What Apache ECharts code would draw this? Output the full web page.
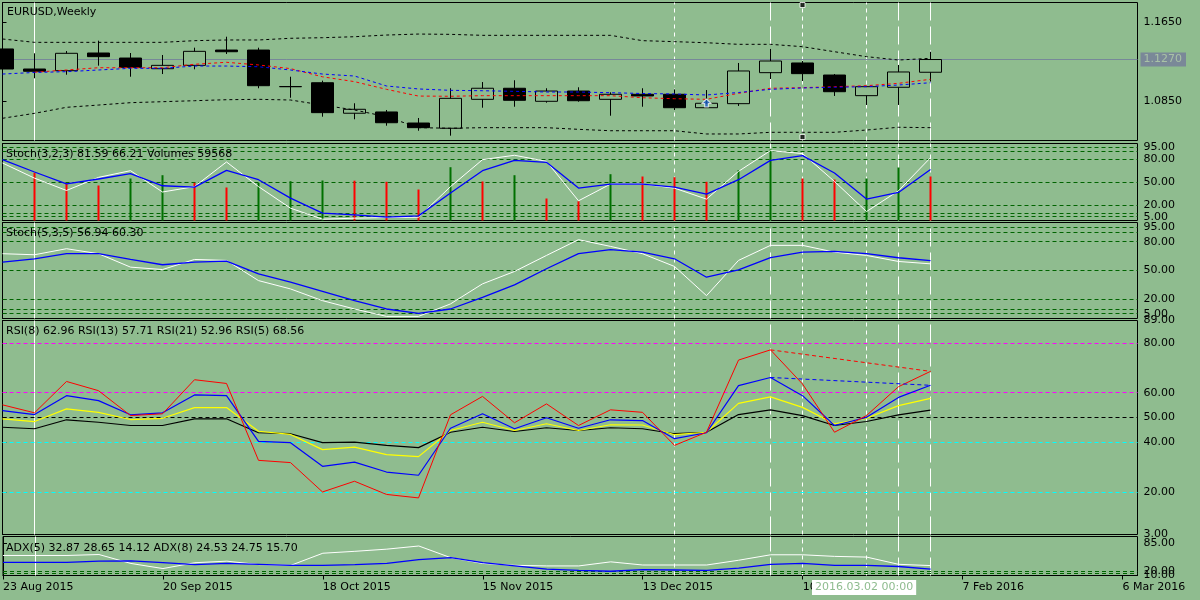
<!DOCTYPE html>
<html>
<head>
<meta charset="utf-8">
<script src="https://cdn.jsdelivr.net/npm/echarts@6/dist/echarts.min.js"></script>
<style>
html, body { margin: 0; padding: 0; background: #8fbc8f; }
#chart { width: 1200px; height: 600px; }
</style>
</head>
<body>
<div id="chart"></div>
<script>
// weekly bars, index 0 = week of 23 Aug 2015
var dateLabels = ['23 Aug 2015', '20 Sep 2015', '18 Oct 2015', '15 Nov 2015',
    '13 Dec 2015', '10 Jan 2016', '7 Feb 2016', '6 Mar 2016'];

var opens  = [1.1377, 1.1174, 1.1157, 1.1336, 1.1285, 1.1177, 1.1211, 1.1366, 1.1366, 1.0996,
              1.1035, 1.0726, 1.0739, 1.0627, 1.0574, 1.0867, 1.0979, 1.0847, 1.0951, 1.0867,
              1.0918, 1.0918, 1.0782, 1.0823, 1.1137, 1.1235, 1.1113, 1.0904, 1.0989, 1.1141];
var closes = [1.1174, 1.1151, 1.1333, 1.1299, 1.1191, 1.1211, 1.1353, 1.1349, 1.1005, 1.0995,
              1.0732, 1.0766, 1.0630, 1.0580, 1.0877, 1.0979, 1.0857, 1.0951, 1.0853, 1.0918,
              1.0901, 1.0782, 1.0827, 1.1154, 1.1255, 1.1127, 1.0944, 1.0995, 1.1144, 1.1270];
var lows   = [1.1160, 1.1080, 1.1116, 1.1208, 1.1096, 1.1123, 1.1171, 1.1326, 1.0979, 1.0883,
              1.0691, 1.0665, 1.0600, 1.0549, 1.0499, 1.0782, 1.0792, 1.0833, 1.0843, 1.0701,
              1.0792, 1.0759, 1.0780, 1.0800, 1.1073, 1.1053, 1.0901, 1.0810, 1.0810, 1.1046];
var highs  = [1.1390, 1.1333, 1.1356, 1.1461, 1.1336, 1.1316, 1.1390, 1.1501, 1.1390, 1.1096,
              1.1056, 1.0827, 1.0759, 1.0678, 1.0979, 1.1042, 1.1060, 1.0979, 1.0989, 1.0938,
              1.0979, 1.0968, 1.0961, 1.1235, 1.1377, 1.1255, 1.1123, 1.0995, 1.1215, 1.1349];

var bandUpper = [1.1478, 1.1444, 1.1444, 1.1444, 1.1444, 1.1444, 1.1461, 1.1468, 1.1468, 1.1485,
                 1.1491, 1.1501, 1.1518, 1.1528, 1.1525, 1.1515, 1.1515, 1.1515, 1.1515, 1.1515,
                 1.1461, 1.1451, 1.1440, 1.1424, 1.1424, 1.1400, 1.1349, 1.1299, 1.1265, 1.1282];
var bandLower = [1.0675, 1.0725, 1.0786, 1.0809, 1.0833, 1.0843, 1.0853, 1.0863, 1.0867, 1.0860,
                 1.0809, 1.0759, 1.0691, 1.0580, 1.0574, 1.0580, 1.0580, 1.0580, 1.0563, 1.0549,
                 1.0549, 1.0549, 1.0516, 1.0516, 1.0533, 1.0533, 1.0533, 1.0556, 1.0584, 1.0580];
var maRed  = [null, 1.1141, 1.1164, 1.1187, 1.1187, 1.1187, 1.1222, 1.1242, 1.1215, 1.1178,
              1.1095, 1.1046, 1.0968, 1.0900, 1.0898, 1.0904, 1.0904, 1.0904, 1.0904, 1.0904,
              1.0883, 1.0873, 1.0867, 1.0928, 1.0979, 1.0985, 1.0995, 1.1005, 1.1029, 1.1070];
var maBlue = [1.1123, 1.1139, 1.1147, 1.1164, 1.1181, 1.1181, 1.1204, 1.1204, 1.1197, 1.1164,
              1.1123, 1.1103, 1.1002, 1.0972, 1.0958, 1.0954, 1.0948, 1.0941, 1.0941, 1.0934,
              1.0926, 1.0921, 1.0911, 1.0936, 1.0968, 1.0982, 1.0989, 1.0995, 1.1012, 1.1035];

var buySignal = [[22, 1.0830]];
var anchorMarks = [[25, 1.1822], [25, 1.0485]];

var volumes = [70000, 64580, 49680, 47380, 56860, 61330, 51040, 44680, 51040, 53200,
               54150, 53900, 52390, 41970, 72160, 52800, 61330, 29780, 26130, 62680,
               59570, 58620, 52390, 68100, 96120, 56860, 55510, 56860, 71750, 59568];
var stochFastK = [74.7, 55, 39, 56, 64.7, 37, 44, 76, 44, 16, 1.7, 3, 3.8, 4.3, 44,
                  79, 84.7, 76.8, 25.6, 47.3, 47.3, 42, 27.8, 63.8, 90.8, 86.9, 50.7, 11.6, 38.6, 81.59];
var stochFastD = [79, 63, 47.7, 53.9, 60.8, 45.1, 43.4, 65.1, 53, 29.1, 9.5, 7.3, 4.3, 6, 35.6,
                  64.7, 78.1, 75.5, 42.1, 47.3, 47.3, 43.4, 34.3, 53, 78.1, 84.3, 61.7, 27.8, 36.4, 66.21];
var stochSlowK = [67.5, 66.4, 72.7, 67.5, 53.5, 51, 61.5, 60.5, 39.5, 30.8, 18.6, 9.9, 2.2, 2.2, 15.2,
                  36.1, 49, 65.7, 82.1, 75.1, 67.5, 54.2, 23.8, 60.5, 76.2, 76.2, 69.1, 65.7, 59.4, 56.94];
var stochSlowD = [58.7, 62.2, 67.5, 67.5, 61.5, 56, 58.7, 59.7, 46.5, 37.8, 28.3, 18.6, 9.9, 5.3, 9.9,
                  22.1, 35, 51.8, 67.5, 71.7, 69.1, 62.2, 43, 50.7, 63.3, 69.1, 69.9, 67.5, 63.3, 60.30];

var rsi5  = [55.1, 51.9, 64.5, 60.8, 50.8, 51.5, 65.2, 63.7, 32.8, 31.9, 20.1, 24.4, 19.1, 17.7, 51.1,
             58.5, 47.9, 55.5, 46.8, 53.1, 52.1, 38.8, 44.1, 73.1, 77.2, 63.5, 44.1, 50.8, 62.4, 68.56];
var rsi8  = [52.8, 51.2, 58.8, 56.8, 51.1, 51.9, 59.1, 58.8, 40.4, 39.9, 30.4, 32.1, 28.1, 26.8, 45.7,
             51.5, 45.5, 49.9, 45.7, 49.1, 48.8, 41.5, 43.9, 62.8, 66.1, 58.8, 46.8, 50.1, 58.1, 62.96];
var rsi13 = [49.5, 48.4, 53.5, 52.1, 49.2, 49.7, 54, 54, 44.5, 43.2, 37.1, 38.1, 35.1, 34.3, 44.8,
             48.1, 44.8, 47.5, 44.8, 47.1, 47, 43.1, 44.1, 55.7, 58.3, 54.1, 47.5, 49.7, 54.8, 57.71];
var rsi21 = [46.1, 45.5, 49.1, 48.1, 46.8, 46.8, 49.5, 49.5, 43.9, 43.5, 39.9, 40.1, 38.8, 37.9, 44.1,
             46.1, 44.4, 45.9, 44.8, 45.9, 45.5, 43.5, 44.1, 51.2, 53.1, 50.8, 46.8, 48.4, 51.1, 52.96];

var adx5 = [56.2, 56.2, 56.2, 58.4, 37.8, 26, 39.5, 43.1, 35.1, 33.5, 61.4, 65.8, 70.8, 78.1, 51.1,
            37.8, 33.5, 32.1, 32.1, 41.5, 34.2, 34.2, 34.2, 45.2, 57.8, 57.8, 54.1, 52.5, 35.8, 32.87];
var adx8 = [40.1, 40.1, 40.1, 43.1, 43.8, 39.5, 35.1, 37.8, 35.8, 33.5, 33.5, 35.1, 37.8, 46.8, 51.1,
            39.5, 32.1, 24.8, 21.8, 19.8, 23.4, 22.7, 21.8, 27.1, 35.8, 37.8, 33.5, 33.5, 30.8, 24.53];

// chart objects (vertical lines) placed on bars
var vLineBars  = [1, 21, 24, 25, 27, 28, 29];
var vLineKinds = ['solid', 'dot', 'dash', 'dot', 'dot', 'dash', 'dash'];

var stochLevels = [5, 10, 20, 50, 80, 90, 95];
var rsiLevels = [3, 20, 40, 50, 60, 80, 89];
var adxLevels = [10, 15, 20, 85];
var priceTicks = [1.085, 1.165];

var FONT = 'DejaVu Sans';
var FSIZE = 11;
var BG = '#8fbc8f';

function pairs(arr) {
    return arr.map(function (v, i) { return [i, v]; });
}

function vLines(skipFirst) {
    var out = [];
    vLineBars.forEach(function (b, k) {
        if (skipFirst && k === 0) return;
        var kind = vLineKinds[k];
        out.push({
            xAxis: b,
            lineStyle: {
                color: '#fff', width: 1,
                type: kind === 'solid' ? 'solid' : (kind === 'dot' ? [4, 4] : [18, 6])
            }
        });
    });
    return out;
}

function levelLines(levels, colors) {
    return levels.map(function (v, k) {
        return { yAxis: v, lineStyle: { color: colors[k], width: 1, type: [4, 3] } };
    });
}

function helper(grid, lines) {
    return {
        type: 'line', xAxisIndex: grid, yAxisIndex: grid, data: [], z: 1,
        markLine: { silent: true, z: 1, precision: 4, symbol: 'none', label: { show: false }, data: lines, animation: false }
    };
}

function line(grid, yIdx, data, color, width, dash) {
    return {
        type: 'line', xAxisIndex: grid, yAxisIndex: yIdx, data: pairs(data),
        showSymbol: false, connectNulls: false, z: 3,
        lineStyle: { color: color, width: width || 1, type: dash || 'solid' }
    };
}

var grids = [
    { top: 2.5, height: 138 },
    { top: 143.5, height: 77 },
    { top: 222.5, height: 96 },
    { top: 320.5, height: 214 },
    { top: 536.5, height: 39 }
].map(function (g) {
    return {
        left: 2.5, right: 62.5, top: g.top, height: g.height,
        show: true, borderColor: '#000', borderWidth: 1, backgroundColor: 'transparent'
    };
});

var xAxes = grids.map(function (g, i) {
    var last = i === grids.length - 1;
    return {
        type: 'value', gridIndex: i, min: 0, max: 35.46875,
        splitLine: { show: false },
        axisLine: { show: last, onZero: false, lineStyle: { color: '#000' } },
        axisTick: { show: last, length: 4, lineStyle: { color: '#000' }, customValues: [0, 5, 10, 15, 20, 25, 30, 35] },
        axisLabel: {
            show: last, color: '#000', fontFamily: FONT, fontSize: FSIZE, margin: 6, align: 'left',
            hideOverlap: false,
            customValues: [0, 5, 10, 15, 20, 25, 30, 35],
            formatter: function (v) { return dateLabels[Math.round(v / 5)]; }
        }
    };
});

function yAx(grid, min, max, ticks, digits) {
    return {
        type: 'value', gridIndex: grid, position: 'right', min: min, max: max,
        splitLine: { show: false },
        axisLine: { show: true, lineStyle: { color: '#000' } },
        axisTick: { show: true, length: 4, lineStyle: { color: '#000' }, customValues: ticks },
        axisLabel: {
            color: '#000', fontFamily: FONT, fontSize: FSIZE, margin: 6, customValues: ticks,
            hideOverlap: false, showMinLabel: true, showMaxLabel: true,
            formatter: function (v) { return v.toFixed(digits); }
        }
    };
}

var yAxes = [
    yAx(0, 1.045, 1.18475, priceTicks, 4),
    yAx(1, 0, 100, stochLevels, 2),
    yAx(2, 0, 100, stochLevels, 2),
    yAx(3, 3, 89, rsiLevels, 2),
    yAx(4, 10, 100, adxLevels, 2),
    { type: 'value', gridIndex: 1, min: 0, max: 104244, show: false }
];

var stochColors = ['#006400', '#006400', '#006400', '#006400', '#006400', '#006400', '#006400'];

var series = [
    helper(0, vLines(false)),
    helper(1, vLines(true).concat(levelLines(stochLevels, stochColors))),
    helper(2, vLines(false).concat(levelLines(stochLevels, stochColors))),
    helper(3, vLines(false).concat(levelLines([20, 40, 50, 60, 80],
        ['#00ffff', '#00ffff', '#000000', '#ff00ff', '#ff00ff']))),
    helper(4, vLines(false).concat(levelLines([15, 20], ['#006400', '#006400']))),

    line(0, 0, bandUpper, '#000', 1, [3, 3]),
    line(0, 0, bandLower, '#000', 1, [3, 3]),
    {
        type: 'candlestick', xAxisIndex: 0, yAxisIndex: 0, barWidth: 22, z: 2,
        data: opens.map(function (o, i) { return [i, o, closes[i], lows[i], highs[i]]; }),
        itemStyle: { color: BG, color0: '#000', borderColor: '#000', borderColor0: '#000', borderWidth: 1 }
    },
    line(0, 0, maRed, '#ff0000', 1, [3, 3]),
    {
        type: 'line', xAxisIndex: 0, yAxisIndex: 0, data: pairs(maBlue),
        showSymbol: false, z: 3,
        lineStyle: { color: '#0000ff', width: 1, type: [3, 3] },
        // current price line with its axis label
        markLine: {
            silent: true, z: 1, precision: 4, symbol: 'none', animation: false,
            data: [{ yAxis: closes[closes.length - 1] }],
            lineStyle: { color: '#778899', width: 1, type: 'solid' },
            label: {
                show: true, position: 'end', distance: 3,
                formatter: function (p) { return Number(p.value).toFixed(4); },
                backgroundColor: '#7a8898', color: '#a9c2a6',
                fontFamily: FONT, fontSize: FSIZE, padding: [2, 4, 1, 3]
            }
        }
    },
    {
        type: 'scatter', xAxisIndex: 0, yAxisIndex: 0, data: buySignal, z: 5,
        symbol: 'path://M5,0 L10,5 L7,5 L7,9 L3,9 L3,5 L0,5 Z', symbolSize: [9, 8],
        itemStyle: { color: '#1e60c8', borderColor: '#fff', borderWidth: 1 }
    },
    {
        type: 'scatter', xAxisIndex: 0, yAxisIndex: 0, data: anchorMarks, z: 5,
        symbol: 'rect', symbolSize: 5, itemStyle: { color: '#000', borderColor: '#fff', borderWidth: 1 }
    },

    {
        type: 'bar', xAxisIndex: 1, yAxisIndex: 5, barWidth: 2, z: 2,
        data: volumes.map(function (v, i) {
            var up = i === 0 || v > volumes[i - 1];
            return { value: [i, v], itemStyle: { color: up ? '#007000' : '#ff0000' } };
        }).slice(1)
    },
    line(1, 1, stochFastK, '#ffffff', 1),
    line(1, 1, stochFastD, '#0000ff', 1.3),

    line(2, 2, stochSlowK, '#ffffff', 1),
    line(2, 2, stochSlowD, '#0000ff', 1.3),

    line(3, 3, rsi21, '#000000', 1.2),
    line(3, 3, rsi13, '#ffff00', 1.2),
    line(3, 3, rsi8, '#0000ff', 1.2),
    line(3, 3, rsi5, '#ff0000', 1),
    {
        type: 'line', xAxisIndex: 3, yAxisIndex: 3, showSymbol: false, z: 3,
        data: [[24, rsi5[24]], [29, rsi5[29]]],
        lineStyle: { color: '#ff0000', width: 1, type: [4, 3] }
    },
    {
        type: 'line', xAxisIndex: 3, yAxisIndex: 3, showSymbol: false, z: 3,
        data: [[24, rsi8[24]], [29, rsi8[29]]],
        lineStyle: { color: '#0000ff', width: 1, type: [4, 3] }
    },

    line(4, 4, adx5, '#ffffff', 1),
    line(4, 4, adx8, '#0000ff', 1.3)
];

function caption(x, y, text) {
    return {
        type: 'text', left: x, top: y, z: 50, silent: true,
        style: { text: text, fill: '#000', font: FSIZE + 'px "' + FONT + '"' }
    };
}

var chart = echarts.init(document.getElementById('chart'), null, { renderer: 'canvas' });
chart.setOption({
    backgroundColor: BG,
    animation: false,
    grid: grids,
    xAxis: xAxes,
    yAxis: yAxes,
    series: series,
    graphic: [
        caption(7, 7, 'EURUSD,Weekly'),
        caption(6, 149, 'Stoch(3,2,3) 81.59 66.21 Volumes 59568'),
        caption(6, 228, 'Stoch(5,3,5) 56.94 60.30'),
        caption(6, 326, 'RSI(8) 62.96 RSI(13) 57.71 RSI(21) 52.96 RSI(5) 68.56'),
        caption(6, 543, 'ADX(5) 32.87 28.65 14.12 ADX(8) 24.53 24.75 15.70'),
        {
            type: 'text', left: 812, top: 580, z: 60, silent: true,
            style: {
                text: '2016.03.02 00:00', fill: BG, backgroundColor: '#fff',
                padding: [2, 3, 2, 3], font: FSIZE + 'px "' + FONT + '"'
            }
        }
    ]
});
window.addEventListener('resize', function () {
    chart.resize();
});
</script>
</body>
</html>
